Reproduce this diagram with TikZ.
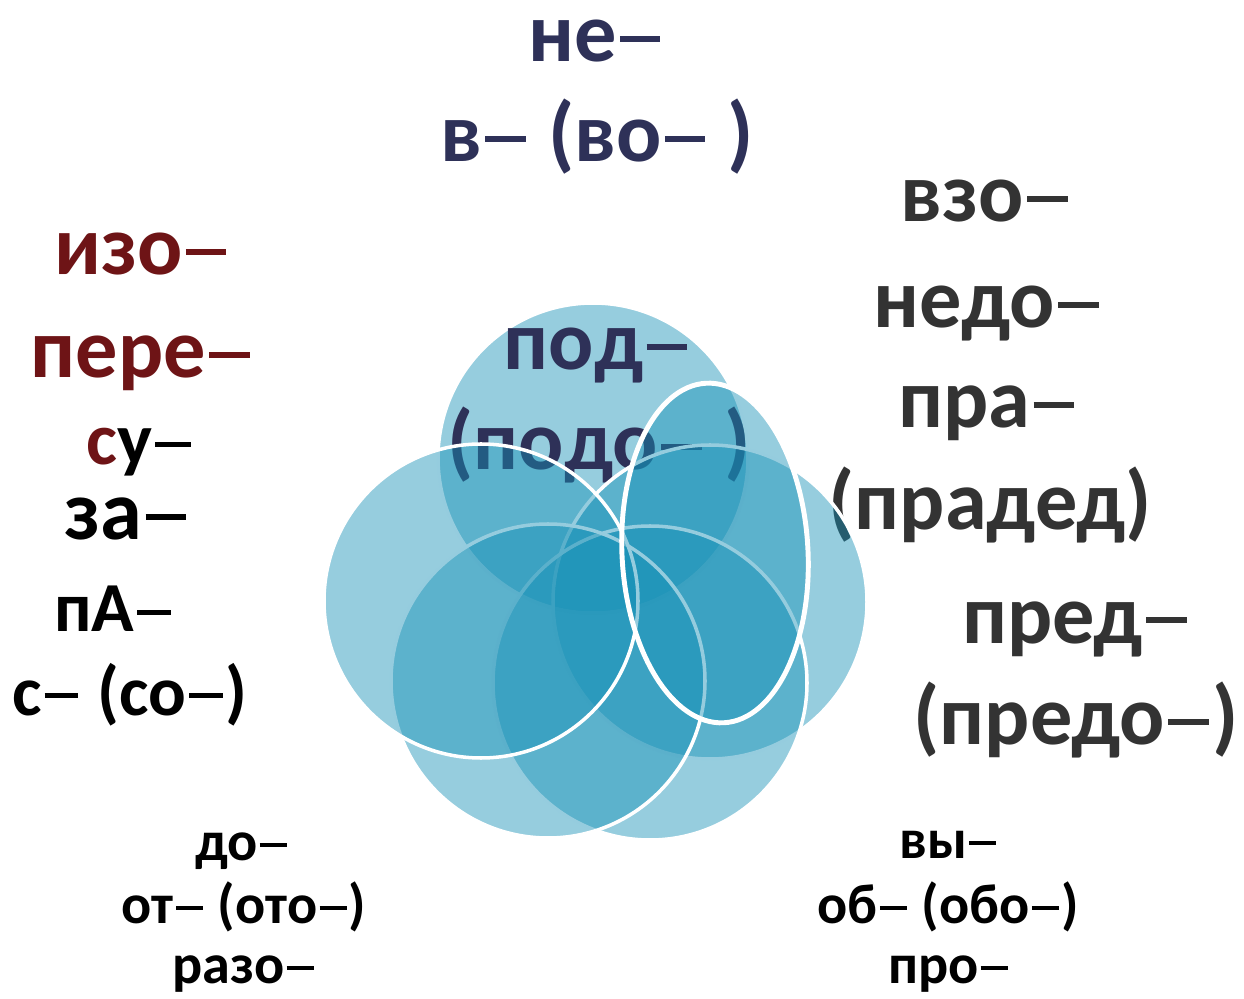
\documentclass[tikz,border=0pt]{standalone}
\usepackage{fontspec}
\setmainfont{Carlito}
\definecolor{navy}{RGB}{46,49,88}
\definecolor{wine}{RGB}{110,20,22}
\definecolor{ink}{RGB}{51,51,51}
\definecolor{bubblefill}{RGB}{22,144,182}
\newcommand\dsh{\kern0.04em\rule[0.24em]{0.48em}{0.07em}\kern0.04em}
\tikzset{
  bubble/.style={fill=bubblefill,fill opacity=0.45,draw=white,line width=2pt},
  morph/.style={anchor=base,font=\bfseries\fontsize{48}{48}\selectfont},
  small morph/.style={anchor=base,font=\bfseries\fontsize{32}{32}\selectfont},
}
\begin{document}
\begin{tikzpicture}[x=0.02cm,y=-0.02cm]
\useasboundingbox (0,0) rectangle (1244,999);

% top circle first, the labels lie over it
\draw[bubble] (593,458) circle [radius=155];

\foreach \x/\y/\t [count=\i] in {596/62/{не\dsh},597/162/{в\dsh{} (во\dsh{} )},597/370/{под\dsh},599/470/{(подо\dsh{} )}}
\node[morph,navy] (top\i) at (\x,\y) {\t};

\foreach \x/\y/\t [count=\i] in {142/275/{изо\dsh},142/378/{пере\dsh}}
\node[morph,wine] (left\i) at (\x,\y) {\t};
\node[morph,font=\bfseries\fontsize{42}{42}\selectfont] (left3) at (140,465) {\textcolor{wine}{с}у\dsh};
\node[morph,black] (left4) at (127,540) {за\dsh};
\foreach \x/\y/\t [count=\i from 5] in {114/632/{пА\dsh},130/715/{с\dsh{} (со\dsh)}}
\node[morph,font=\bfseries\fontsize{40}{40}\selectfont] (left\i) at (\x,\y) {\t};

\foreach \x/\y/\t [count=\i] in {986/222/{взо\dsh},988/328/{недо\dsh},988/428/{пра\dsh},990/530/{(прадед)},1076/643/{пред\dsh},1076/745/{(предо\dsh)}}
\node[morph,ink] (right\i) at (\x,\y) {\t};

\foreach \x/\y/\t [count=\i] in {242/860/{до\dsh},244/923/{от\dsh{} (ото\dsh)},244/983/{разо\dsh}}
\node[small morph] (lowleft\i) at (\x,\y) {\t};
\foreach \x/\y/\t [count=\i] in {949/858/{вы\dsh},948/923/{об\dsh{} (обо\dsh)},949/983/{про\dsh}}
\node[small morph] (lowright\i) at (\x,\y) {\t};

% the other circles and the ellipse on top
\foreach \cx/\cy in {710/602,650/683,548/681,481/601}
\draw[bubble] (\cx,\cy) circle [radius=157];
\draw[bubble,line width=2.8pt,rotate around={3:(715,553)}] (715,553) ellipse [x radius=93,y radius=170];
\end{tikzpicture}
\end{document}
